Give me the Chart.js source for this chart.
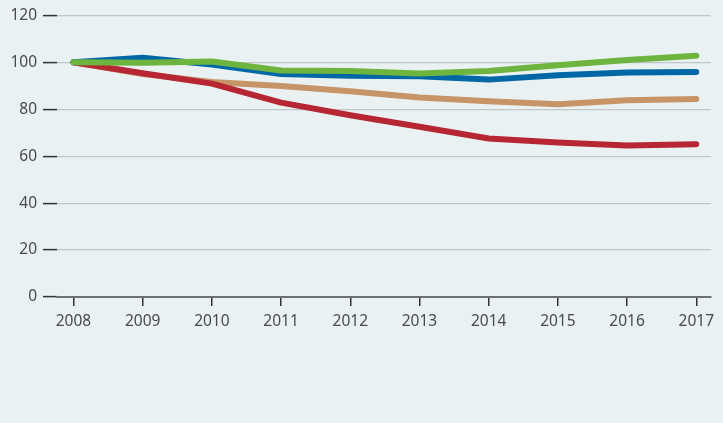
<!DOCTYPE html>
<html>
<head>
<meta charset="utf-8">
<script src="https://cdn.jsdelivr.net/npm/chart.js@4"></script>
<style>
  html, body { margin: 0; padding: 0; background: #e9f1f2; }
  #wrap { width: 723px; height: 423px; }
</style>
</head>
<body>
<div id="wrap"><canvas id="line-chart"></canvas></div>
<script>
// chart values
var years = [2008, 2009, 2010, 2011, 2012, 2013, 2014, 2015, 2016, 2017];
var yTicks = [0, 20, 40, 60, 80, 100, 120];

var greenVals = [100, 99.8, 100.3, 96.5, 96.3, 95.2, 96.3, 98.7, 101.0, 102.8];
var blueVals  = [100, 101.9, 99.0, 95.0, 94.3, 94.0, 92.6, 94.5, 95.6, 95.8];
var redVals   = [100, 95.3, 90.9, 82.8, 77.4, 72.5, 67.5, 65.8, 64.5, 65.1];
var tanVals   = [100, 95.0, 91.6, 89.9, 87.6, 85.0, 83.4, 82.1, 83.8, 84.3];

function pts(vals) {
  return vals.map(function (v, i) { return { x: years[i], y: v }; });
}

function line(vals, color) {
  return {
    data: pts(vals),
    borderColor: color,
    backgroundColor: color,
    borderWidth: 6,
    pointRadius: 0,
    tension: 0,
    borderCapStyle: 'round',
    borderJoinStyle: 'round'
  };
}

var font = { family: 'Noto Sans', size: 15.5 };

new Chart(document.getElementById('line-chart'), {
  type: 'line',
  data: {
    datasets: [
      line(greenVals, '#6db53f'),
      line(blueVals, '#0067a6'),
      line(redVals, '#b62633'),
      line(tanVals, '#c69466')
    ]
  },
  options: {
    responsive: true,
    maintainAspectRatio: false,
    animation: false,
    layout: { padding: { top: 15, right: 12, left: 0, bottom: 0 } },
    plugins: { legend: { display: false }, tooltip: { enabled: false } },
    scales: {
      x: {
        type: 'linear',
        min: 2007.762,
        max: 2017.213,
        afterBuildTicks: function (scale) {
          scale.ticks = years.map(function (y) { return { value: y }; });
        },
        afterFit: function (scale) { scale.height = 126; },
        border: { color: '#6e7173', width: 2 },
        grid: { drawOnChartArea: false, drawTicks: true, tickLength: 9, tickColor: '#333', lineWidth: 1.5 },
        ticks: {
          color: '#4a4a4a',
          font: font,
          padding: 6,
          maxRotation: 0,
          callback: function (v) { return String(v); }
        }
      },
      y: {
        min: 0,
        max: 120,
        afterBuildTicks: function (scale) {
          scale.ticks = yTicks.map(function (v) { return { value: v }; });
        },
        afterFit: function (scale) { scale.width = 57; },
        border: { display: false },
        grid: { color: '#c3c6c8', lineWidth: 1.2, tickLength: 14, tickColor: '#333', tickWidth: 1.5 },
        ticks: { color: '#4a4a4a', font: font, padding: 6 }
      }
    }
  }
});
</script>
</body>
</html>
